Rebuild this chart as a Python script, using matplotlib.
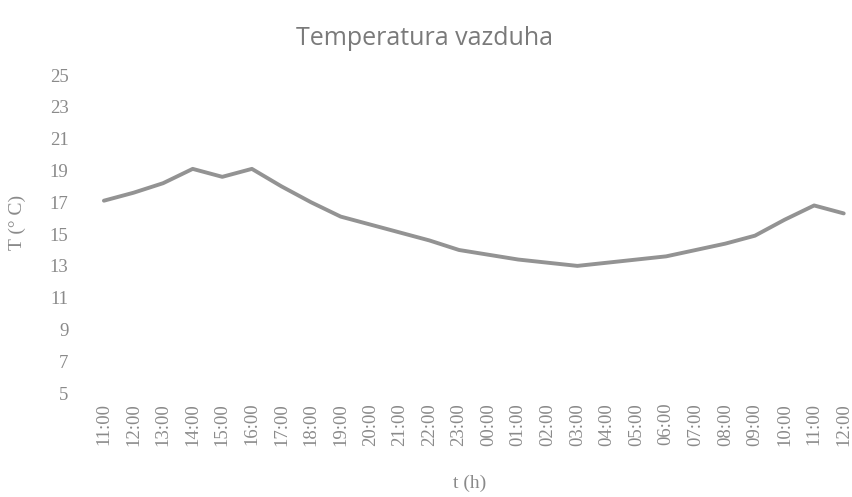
import matplotlib.pyplot as plt

# Data ...........................................................................................

hours = ['11:00', '12:00', '13:00', '14:00', '15:00', '16:00', '17:00', '18:00', '19:00',
         '20:00', '21:00', '22:00', '23:00', '00:00', '01:00', '02:00', '03:00', '04:00',
         '05:00', '06:00', '07:00', '08:00', '09:00', '10:00', '11:00', '12:00']
temps = [17.1, 17.6, 18.2, 19.1, 18.6, 19.1, 18.0, 17.0, 16.1, 15.6, 15.1, 14.6, 14.0,
         13.7, 13.4, 13.2, 13.0, 13.2, 13.4, 13.6, 14.0, 14.4, 14.9, 15.9, 16.8, 16.3]
y_ticks = [5, 7, 9, 11, 13, 15, 17, 19, 21, 23, 25]

# Plot ...........................................................................................

fig = plt.figure(figsize = (8.53, 4.97), dpi = 100)
ax = fig.add_axes([90.6 / 853, 0.209, 762 / 853, 0.640])

x = list(range(len(hours)))
ax.plot(x, temps, color = '#939393', lw = 2.8, solid_capstyle = 'round')

ax.set_xlim(-0.45, 25.3)
ax.set_ylim(5, 25)
ax.set_yticks(y_ticks)
ax.set_xticks(x)
ax.set_xticklabels(hours, rotation = 90)

for s in ax.spines.values():
    s.set_visible(False)
ax.tick_params(length = 0, colors = '#8a8a8a', labelsize = 13.5)
ax.tick_params(axis = 'y', pad = 16)
ax.tick_params(axis = 'x', pad = 7)
for lbl in ax.get_xticklabels() + ax.get_yticklabels():
    lbl.set_family('Liberation Serif')

fig.text(0.498, 0.922, 'Temperatura vazduha', ha = 'center', va = 'center',
         fontsize = 18, color = '#7a7a7a', family = 'Open Sans')
fig.text(0.020, 0.553, 'T (° C)', ha = 'center', va = 'center', rotation = 90,
         fontsize = 14, color = '#8a8a8a', family = 'Liberation Serif')
fig.text(0.551, 0.028, 't (h)', ha = 'center', va = 'center',
         fontsize = 14, color = '#8a8a8a', family = 'Liberation Serif')

plt.savefig('out.png', dpi = 100)
